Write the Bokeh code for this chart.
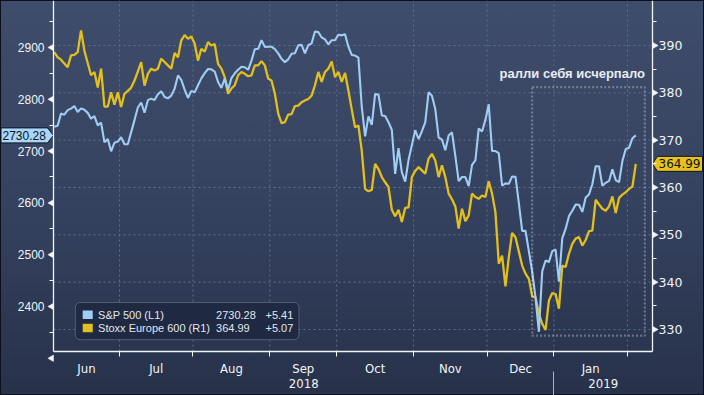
import numpy as np
from bokeh.plotting import figure
from bokeh.models import (Range1d, LinearAxis, FixedTicker, SingleIntervalTicker,
                          BoxAnnotation, Label, ColumnDataSource)
from bokeh.embed import file_html
from bokeh.resources import INLINE

# ---------------- data ----------------
months = ["Jun", "Jul", "Aug", "Sep", "Oct", "Nov", "Dec", "Jan"]
month_days = [20, 22, 23, 20, 23, 22, 20, 22, 3]      # trading days shown per month (Jun..Feb)
years = ["2018", "2019"]
year_start_month = [0, 7]                              # month index where each year starts

series_names = ["S&P 500 (L1)", "Stoxx Europe 600 (R1)"]
last_changes = ["+5.41", "+5.07"]

sp500 = [
    2746.87, 2748.80, 2772.35, 2770.37, 2779.03, 2782.00, 2786.85, 2775.63, 2782.49, 2779.66,
    2773.75, 2762.59, 2767.32, 2749.76, 2754.88, 2717.07, 2723.06, 2699.63, 2716.31, 2718.37,
    2726.71, 2713.22, 2713.22, 2736.61, 2759.82, 2784.17, 2793.84, 2774.02, 2798.29, 2801.31,
    2798.43, 2809.55, 2815.62, 2804.49, 2801.83, 2806.98, 2820.40, 2846.07, 2837.44, 2818.82,
    2802.60, 2816.29,
    2813.36, 2827.22, 2840.35, 2850.40, 2858.45, 2857.70, 2853.58, 2833.28, 2821.93, 2839.96,
    2818.37, 2840.69, 2850.13, 2857.05, 2862.96, 2861.82, 2856.98, 2874.69, 2896.74, 2897.52,
    2914.04, 2901.13, 2901.52,
    2901.52, 2896.72, 2888.60, 2878.05, 2871.68, 2877.13, 2887.89, 2888.92, 2904.18, 2904.98,
    2888.80, 2904.31, 2907.95, 2930.75, 2929.67, 2919.37, 2915.56, 2905.97, 2914.00, 2913.98,
    2924.59, 2923.43, 2925.51, 2901.61, 2885.57, 2884.43, 2880.34, 2785.68, 2728.37, 2767.13,
    2750.79, 2809.92, 2809.21, 2768.78, 2767.78, 2755.88, 2740.69, 2656.10, 2705.57, 2658.69,
    2641.25, 2682.63, 2711.74,
    2740.37, 2723.06, 2738.31, 2755.45, 2813.89, 2806.83, 2781.01, 2726.22, 2722.18, 2701.58,
    2730.20, 2736.27, 2690.73, 2641.89, 2649.93, 2649.93, 2632.56, 2673.45, 2682.17, 2743.79,
    2737.80, 2760.17,
    2790.37, 2700.06, 2700.06, 2695.95, 2633.08, 2637.72, 2636.78, 2651.07, 2650.54, 2599.95,
    2545.94, 2546.16, 2506.96, 2467.42, 2416.62, 2351.10, 2467.70, 2488.83, 2485.74, 2506.85,
    2510.03, 2447.89, 2531.94, 2549.69, 2574.41, 2584.96, 2596.64, 2596.26, 2582.61, 2610.30,
    2616.10, 2635.96, 2670.71, 2670.71, 2632.90, 2638.70, 2642.33, 2664.76, 2643.85, 2640.00,
    2681.05, 2704.10,
    2706.53, 2724.87, 2730.28,
]

stoxx = [
    388.6, 387.5, 387.0, 386.2, 385.4, 387.9, 388.0, 388.6, 393.2, 388.9,
    386.3, 383.7, 384.4, 381.1, 385.1, 377.1, 377.1, 380.1, 377.5, 380.1,
    377.0, 379.8, 380.4, 381.1, 382.6, 384.5, 386.5, 381.5, 384.0, 385.1,
    384.7, 385.1, 387.2, 386.5, 385.8, 385.1, 388.4, 387.5, 391.1, 392.2,
    391.4, 391.9,
    390.4, 386.8, 389.3, 388.7, 390.7, 390.0, 390.3, 386.1, 385.1, 383.3,
    379.8, 380.9, 381.6, 383.7, 384.4, 384.0, 383.5, 383.7, 385.8, 385.8,
    386.7, 385.8, 383.0,
    382.6, 379.8, 375.6, 373.6, 373.8, 375.4, 375.5, 377.2, 377.3, 378.0,
    378.4, 378.7, 379.4, 381.6, 384.4, 382.3, 384.4, 385.1, 386.6, 383.3,
    384.4, 382.3, 384.2, 380.5, 376.5, 372.7, 373.1, 367.8, 359.7, 359.2,
    359.5, 365.0, 363.9, 362.2, 361.1, 360.1, 355.3, 353.9, 355.3, 352.7,
    355.7, 355.8, 362.2,
    363.5, 364.3, 363.6, 362.9, 366.1, 367.1, 365.7, 362.2, 364.7, 362.2,
    358.7, 357.5, 356.0, 351.3, 355.5, 352.9, 354.1, 358.7, 358.0, 357.6,
    358.3, 358.0,
    361.3, 358.7, 354.8, 343.9, 345.6, 339.1, 345.3, 350.4, 349.5, 346.5,
    343.5, 341.8, 340.7, 337.0, 336.8, 333.3, 331.2, 329.9, 336.1, 337.7,
    337.5, 334.4, 343.5, 343.2, 346.0, 348.1, 349.2, 349.5, 347.7, 348.9,
    350.8, 350.9, 357.4, 356.4, 355.5, 355.1, 356.0, 358.1, 354.6, 357.8,
    358.5, 359.0,
    359.7, 360.2, 364.99,
]

left_ticks = [2300, 2400, 2500, 2600, 2700, 2800, 2900]
right_ticks = [330, 340, 350, 360, 370, 380, 390]
note_text = "ралли себя исчерпало"

# ---------------- styling / layout ----------------
W, H = 704, 395
FL, FR, FB = 53, 652, 351                 # plot-area edges on the canvas (px)
X0, X1 = -0.24, 179.0                     # visible trading-day span
YL = (2313.1, 2990.7)                     # left scale over the plot area
YR = (325.35, 399.5)                      # right scale over the plot area
BLUE = "#9fcdf4"
YELLOW = "#e2bf1d"
WHITE = "#f2f4f7"
GRID = "#5d6d8c"
NARROW = "'Liberation Sans Narrow', 'DejaVu Sans Condensed', sans-serif"

px_x = (FR - FL) / (X1 - X0)
px_l = FB / (YL[1] - YL[0])
px_r = FB / (YR[1] - YR[0])
# the frame covers the whole canvas; axes are pinned at the plot-area edges
XC = (X0 - FL / px_x, X1 + (W - FR) / px_x)
YLC = (YL[0] - (H - FB) / px_l, YL[1])
YRC = (YR[0] - (H - FB) / px_r, YR[1])

x = np.arange(len(sp500))
ends = np.cumsum(month_days)
starts = ends - np.array(month_days)
boundaries = [float(b) for b in (ends[:-1] - 0.5)]
centers = [round((max(s - 0.5, X0) + min(e - 0.5, X1)) / 2, 3) for s, e in zip(starts, ends)]
centers = centers[:len(months)]
year_bounds = [max(starts[m] - 0.5, X0) for m in year_start_month] + [X1]
year_centers = [round((year_bounds[i] + year_bounds[i + 1]) / 2, 3) for i in range(len(years))]
year_sep = [float(starts[m] - 0.5) for m in year_start_month[1:]]

p = figure(width=W, height=H, x_range=Range1d(*XC), y_range=Range1d(*YLC),
           x_axis_type=None, y_axis_type=None, output_backend="svg",
           toolbar_location=None, min_border=0)
p.extra_y_ranges = {"right": Range1d(*YRC)}
p.outline_line_color = None
p.background_fill_alpha = 0
p.border_fill_alpha = 0
p.styles = {"background": "linear-gradient(180deg, #3f4d6c 0%, #34415e 55%, #27314a 100%)",
            "box-shadow": "inset 0 0 0 1px #0b101b"}

# dashed grid (month boundaries, right-scale ticks), limited to the plot area
p.segment(x0=boundaries, x1=boundaries, y0=YL[0], y1=YL[1],
          line_color=GRID, line_dash="2 3", line_width=1)
p.segment(x0=X0, x1=X1, y0=right_ticks, y1=right_ticks, y_range_name="right",
          line_color=GRID, line_dash="2 3", line_width=1)

# value axes
yl = LinearAxis(ticker=SingleIntervalTicker(interval=100, num_minor_ticks=2),
                fixed_location=X0, bounds=YL,
                axis_line_color=WHITE, axis_line_width=1.3,
                major_tick_out=6, major_tick_in=0, major_tick_line_alpha=0,
                minor_tick_out=4, minor_tick_in=0, minor_tick_line_color=WHITE,
                major_label_standoff=3, major_label_text_color=WHITE,
                major_label_text_font="Liberation Sans", major_label_text_font_size="12px")
yr = LinearAxis(y_range_name="right", ticker=SingleIntervalTicker(interval=10, num_minor_ticks=2),
                fixed_location=X1, bounds=YR,
                axis_line_color=WHITE, axis_line_width=1.3,
                major_tick_out=5, major_tick_in=0, major_tick_line_alpha=0,
                minor_tick_out=4, minor_tick_in=0, minor_tick_line_color=WHITE,
                major_label_standoff=1, major_label_text_color=WHITE,
                major_label_text_font="DejaVu Sans", major_label_text_font_size="12.5px")
p.add_layout(yl, "left")
p.add_layout(yr, "right")

# time axes
xa = LinearAxis(ticker=FixedTicker(ticks=centers, minor_ticks=boundaries),
                major_label_overrides={c: m for c, m in zip(centers, months)},
                fixed_location=YL[0], bounds=(X0, X1),
                axis_line_color=WHITE, axis_line_width=1.3,
                major_tick_out=0, major_tick_in=0,
                minor_tick_out=5, minor_tick_in=0, minor_tick_line_color=WHITE,
                major_label_standoff=4, major_label_text_color=WHITE,
                major_label_text_font=NARROW, major_label_text_font_size="13px")
p.add_layout(xa, "below")
xb = LinearAxis(ticker=FixedTicker(ticks=year_centers, minor_ticks=year_sep),
                major_label_overrides={c: yv for c, yv in zip(year_centers, years)},
                fixed_location=YL[0] - 24.5 / px_l, bounds=(X0, X1),
                axis_line_color=None, major_tick_out=0, major_tick_in=0,
                minor_tick_out=20, minor_tick_in=5, minor_tick_line_color="#aab2c2",
                major_label_standoff=-17, major_label_text_color=WHITE,
                major_label_text_font=NARROW, major_label_text_font_size="13px")
p.add_layout(xb, "below")

# triangular tick markers
tri = 6.5
tri_shift = (tri * 0.866 / 3) / px_x
p.scatter(x=[X0 - tri_shift] * len(left_ticks), y=left_ticks, marker="triangle",
          angle=np.pi / 2, size=tri, fill_color=WHITE, line_color=WHITE, line_width=0.5)
p.scatter(x=[X1 + tri_shift] * len(right_ticks), y=right_ticks, y_range_name="right",
          marker="triangle", angle=-np.pi / 2, size=tri, fill_color=WHITE,
          line_color=WHITE, line_width=0.5)

# series
src = ColumnDataSource(dict(x=x, sp=sp500, sx=stoxx))
p.line("x", "sx", source=src, y_range_name="right", line_color=YELLOW, line_width=2.3)
p.line("x", "sp", source=src, line_color=BLUE, line_width=2.1)

# highlight box + note
p.add_layout(BoxAnnotation(left=143.0, right=176.7, bottom=328.7, top=381.2, y_range_name="right",
                           fill_alpha=0, line_color="#ffffff", line_width=2.2, line_dash="2 2"))
p.add_layout(Label(x=155.0, y=384.0, y_range_name="right", text=note_text,
                   text_align="center", text_baseline="middle", text_color="#e8ecf2",
                   text_font="Liberation Sans", text_font_style="bold", text_font_size="13px"))

# last-value tags
v = sp500[-1]
dv = 7.5 / px_l
ta0, ta1 = XC[0] + 0.5 / px_x, X0 - 6 / px_x
p.patch(x=[ta0, ta1, X0, ta1, ta0], y=[v + dv, v + dv, v, v - dv, v - dv],
        fill_color="#a9d6f7", fill_alpha=1, line_color="#0f1626", line_width=1)
p.add_layout(Label(x=ta0 + 1.5 / px_x, y=v, text=f"{v:.2f}", text_align="left",
                   text_baseline="middle", text_color="#0d1322",
                   text_font="Liberation Sans", text_font_size="12px"))
v2 = stoxx[-1]
dv2 = 7.5 / px_r
tb1, tb2 = X1 + 5 / px_x, X1 + 50 / px_x
p.patch(x=[X1, tb1, tb2, tb2, tb1], y=[v2, v2 + dv2, v2 + dv2, v2 - dv2, v2 - dv2],
        y_range_name="right", fill_color="#e6c21a", fill_alpha=1,
        line_color="#0f1626", line_width=1)
p.add_layout(Label(x=tb1 + 1 / px_x, y=v2, y_range_name="right", text=f"{v2:.2f}",
                   text_align="left", text_baseline="middle", text_color="#0d1322",
                   text_font="DejaVu Sans", text_font_size="12px"))

# legend (manual, three text columns)
p.add_layout(BoxAnnotation(left=6.3, right=73.2, top=2407.7, bottom=2336.0,
                           fill_color="#1e2841", fill_alpha=0.92, line_color="#c3c8d2",
                           line_width=1, border_radius=5))
rows_y = [2384.2, 2358.5]
sw_half = 8.2
last_vals = [f"{sp500[-1]:.2f}", f"{stoxx[-1]:.2f}"]
for ry, col, name, lv, ch in zip(rows_y, [BLUE, YELLOW], series_names, last_vals, last_changes):
    p.add_layout(BoxAnnotation(left=8.5, right=11.5, top=ry + sw_half, bottom=ry - sw_half,
                               fill_color=col, fill_alpha=1, line_alpha=0))
    for tx, t in zip([13.1, 48.4, 63.2], [name, lv, ch]):
        p.add_layout(Label(x=tx, y=ry, text=t, text_align="left", text_baseline="middle",
                           text_color="#e2e6ed", text_font="Liberation Sans",
                           text_font_size="11px"))

open("out.html", "w").write(file_html(p, INLINE))
